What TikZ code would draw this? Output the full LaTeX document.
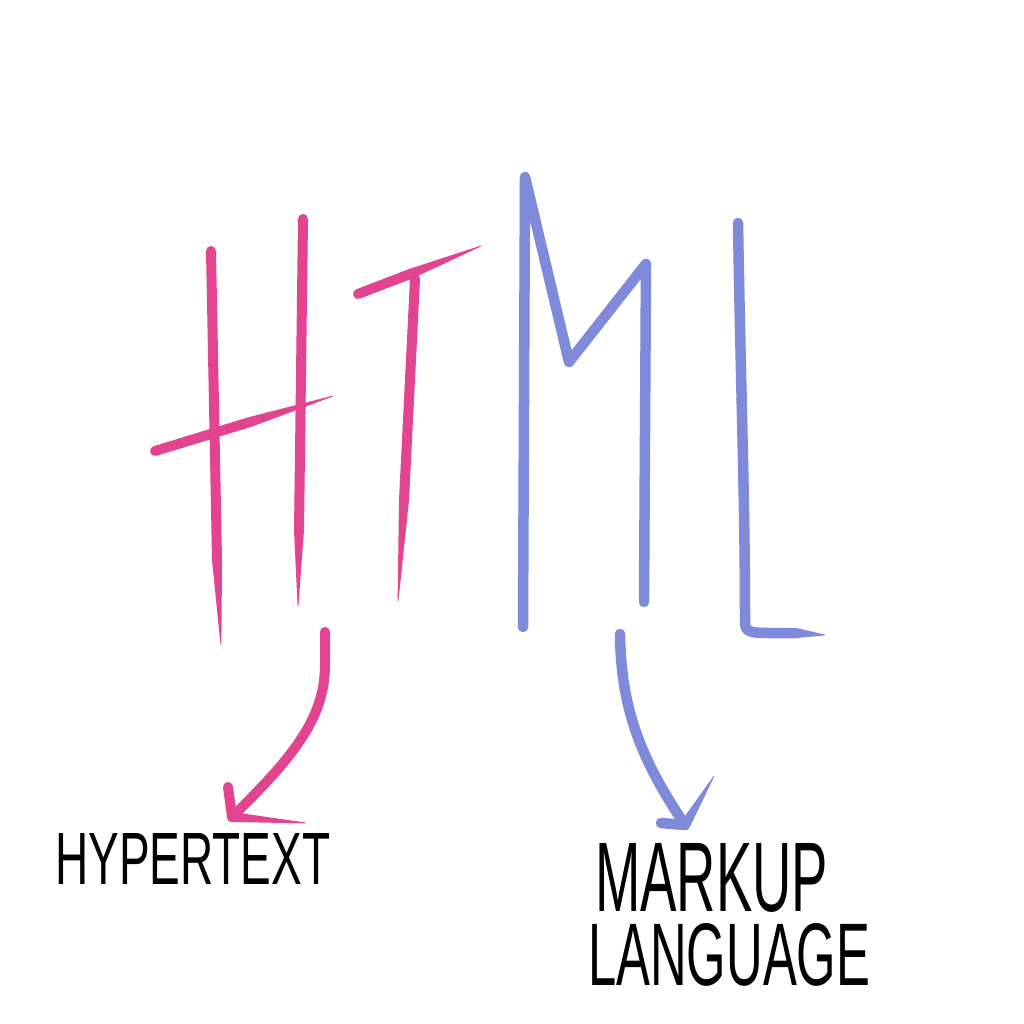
\documentclass[tikz,border=0pt]{standalone}
\usepackage{fontspec}
\usepackage{graphicx}
\usetikzlibrary{calc}
\newfontfamily\handfont{Liberation Sans}
\definecolor{htpink}{HTML}{E2448F}
\definecolor{htblue}{HTML}{7F8ADB}
\newcommand\taper[4]{%
  ($(#1)!#3!90:(#2)$) -- ($(#2)!#4!-90:(#1)$) -- ($(#2)!#4!90:(#1)$) -- ($(#1)!#3!-90:(#2)$) -- cycle}
\tikzset{
  pinkpen/.style={draw=htpink, line width=10pt, line cap=round, line join=round},
  bluepen/.style={draw=htblue, line width=10.5pt, line cap=round, line join=round},
  label/.style={inner sep=0pt, font=\handfont, text=black}
}
\begin{document}
\begin{tikzpicture}[x=1pt,y=-1pt]
\fill[white] (0,0) rectangle (1024,1024);
\useasboundingbox (0,0) rectangle (1024,1024);
% H
\draw[pinkpen] (211,251) -- (217,560);
\fill[htpink] \taper{217,560}{221,645}{5pt}{0.4pt};
\draw[pinkpen] (303,219) -- (299,530);
\fill[htpink] \taper{299,530}{298,606}{5pt}{0.4pt};
\draw[pinkpen] (155,451) -- (250,422);
\fill[htpink] \taper{250,422}{333,396}{5pt}{0.4pt};
% T
\draw[pinkpen] (358,294) -- (410,274);
\fill[htpink] \taper{410,274}{481,246}{5pt}{0.4pt};
\draw[pinkpen] (415,279) -- (404,500);
\fill[htpink] \taper{404,500}{398,601}{5pt}{0.4pt};
% M
\draw[bluepen] (523,627) -- (525,177) -- (569,362) -- (646,264) -- (644,602);
% L
\draw[bluepen] (738,223) .. controls (741,400) and (745,500) .. (745,622) .. controls (745,632) and (750,633) .. (770,633) -- (795,633);
\fill[htblue] \taper{795,633}{825,635}{5.25pt}{0.4pt};
% labels
\node[label, anchor=south west] (hyper) at (55,885) {\resizebox{275pt}{51pt}{HYPERTEXT}};
\node[label, anchor=north west, align=left] (markup) at (588,843)
  {\hspace*{7pt}\resizebox{233pt}{68pt}{MARKUP}\\[10pt]\resizebox{282pt}{62pt}{LANGUAGE}};
% pink arrow
\coordinate (ptail) at (325,632);
\coordinate (ptip) at (232,817);
\draw[pinkpen] (ptail) -- (325,665) .. controls (325,720) and (290,760) .. (ptip);
\draw[pinkpen] (ptip) -- (228,787);
\fill[htpink] \taper{ptip}{306,823}{5pt}{0.4pt};
% blue arrow
\coordinate (btail) at (620,634);
\coordinate (btip) at (685,825);
\draw[bluepen] (btail) .. controls (621,715) and (645,765) .. (btip);
\draw[bluepen] (btip) -- (661,823);
\fill[htblue] \taper{btip}{714,776}{5.25pt}{0.4pt};
\end{tikzpicture}
\end{document}
